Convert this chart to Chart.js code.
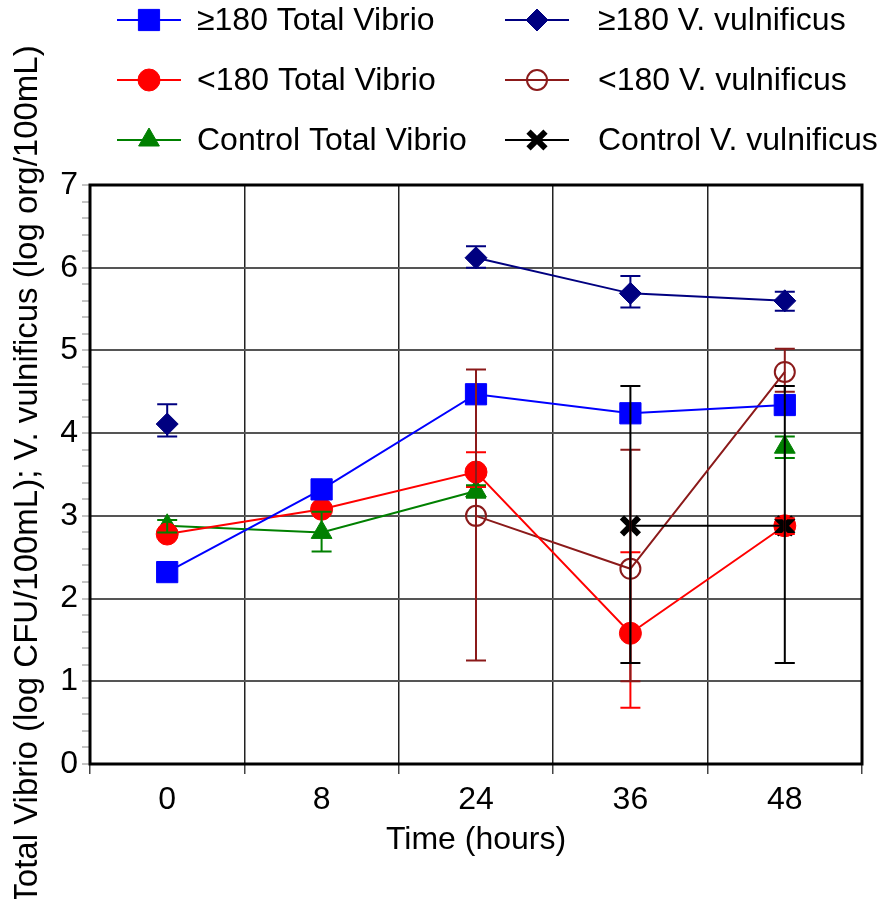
<!DOCTYPE html>
<html>
<head>
<meta charset="utf-8">
<script src="https://cdn.jsdelivr.net/npm/chart.js@4.4.1/dist/chart.umd.min.js"></script>
<style>
html, body { margin: 0; padding: 0; background: #fff; }
</style>
</head>
<body>
<canvas id="grafico" width="882" height="899"></canvas>
<script>
// Datos
const horas = ['0', '8', '24', '36', '48'];

const total180 = [2.32, 3.32, 4.47, 4.24, 4.34];
const vv180 = [4.11, null, 6.12, 5.69, 5.60];
const totalMenos180 = [2.78, 3.08, 3.53, 1.58, 2.88];
const vvMenos180 = [null, null, 3.00, 2.36, 4.74];
const totalControl = [2.88, 2.80, 3.30, null, 3.83];
const vvControl = [null, null, null, 2.88, 2.88];

// Barras de error (limite superior / inferior)
const vv180Sup = [4.35, null, 6.26, 5.90, 5.71];
const vv180Inf = [3.96, null, 6.00, 5.52, 5.48];
const totalMenos180Sup = [null, null, 3.77, 2.56, 2.97];
const totalMenos180Inf = [null, null, 3.35, 0.68, 2.78];
const vvMenos180Sup = [null, null, 4.77, 3.80, 5.02];
const vvMenos180Inf = [null, null, 1.25, 1.00, 4.50];
const totalControlSup = [2.95, 3.05, 3.37, null, 3.96];
const totalControlInf = [2.80, 2.57, 3.22, null, 3.70];
const vvControlSup = [null, null, null, 4.57, 4.57];
const vvControlInf = [null, null, null, 1.22, 1.22];

const fuente = "'Liberation Sans', Arial, Helvetica, sans-serif";

function esEntero(v) {
    return Math.abs(v - Math.round(v)) < 1e-6;
}

// dibuja las barras de error con las escalas del grafico
const barrasError = {
    id: 'barrasError',
    afterDatasetsDraw(chart) {
        const ctx = chart.ctx;
        const xS = chart.scales.x;
        const yS = chart.scales.y;
        chart.data.datasets.forEach((ds) => {
            if (!ds.errSup) return;
            ctx.save();
            ctx.strokeStyle = ds.borderColor;
            ctx.lineWidth = 2;
            for (let j = 0; j < ds.errSup.length; j++) {
                if (ds.errSup[j] == null) continue;
                const x = xS.getPixelForValue(j);
                const y1 = yS.getPixelForValue(ds.errSup[j]);
                const y2 = yS.getPixelForValue(ds.errInf[j]);
                ctx.beginPath();
                ctx.moveTo(x, y1);
                ctx.lineTo(x, y2);
                ctx.moveTo(x - 10, y1);
                ctx.lineTo(x + 10, y1);
                ctx.moveTo(x - 10, y2);
                ctx.lineTo(x + 10, y2);
                ctx.stroke();
            }
            ctx.restore();
        });
    }
};

// marco negro del area del grafico
const marco = {
    id: 'marco',
    beforeDatasetsDraw(chart) {
        const a = chart.chartArea;
        const ctx = chart.ctx;
        ctx.save();
        ctx.strokeStyle = '#000';
        ctx.lineWidth = 3;
        ctx.strokeRect(a.left, a.top, a.right - a.left, a.bottom - a.top);
        ctx.restore();
    }
};

// leyenda en dos columnas
const leyenda = {
    id: 'leyenda',
    afterDraw(chart) {
        const ctx = chart.ctx;
        const colX = [117, 505];
        const textoX = [197, 598];
        const filaY = [20, 80, 140];
        chart.data.datasets.forEach((ds, i) => {
            const x0 = colX[i % 2];
            const y = filaY[Math.floor(i / 2)];
            ctx.save();
            ctx.strokeStyle = ds.borderColor;
            ctx.lineWidth = 2;
            ctx.beginPath();
            ctx.moveTo(x0, y);
            ctx.lineTo(x0 + 64, y);
            ctx.stroke();
            ctx.fillStyle = ds.pointBackgroundColor;
            ctx.strokeStyle = ds.borderColor;
            ctx.lineWidth = ds.pointBorderWidth;
            Chart.helpers.drawPoint(ctx, {
                pointStyle: ds.pointStyle,
                radius: ds.pointRadius,
                borderWidth: ds.pointBorderWidth,
                rotation: 0
            }, x0 + 32, y);
            ctx.fillStyle = '#000';
            ctx.font = '32px ' + fuente;
            ctx.textBaseline = 'middle';
            ctx.fillText(ds.label, textoX[i % 2], y + 1);
            ctx.restore();
        });
    }
};

function serie(label, datos, color, estilo, radio, relleno, anchoBorde, sup, inf, orden) {
    return {
        label: label,
        data: datos,
        order: orden,
        borderColor: color,
        backgroundColor: color,
        borderWidth: 2,
        pointStyle: estilo,
        pointRadius: radio,
        pointHoverRadius: radio,
        pointBackgroundColor: relleno,
        pointBorderColor: color,
        pointBorderWidth: anchoBorde,
        spanGaps: false,
        tension: 0,
        errSup: sup,
        errInf: inf
    };
}

const ctx = document.getElementById('grafico').getContext('2d');
new Chart(ctx, {
    type: 'line',
    data: {
        labels: horas,
        datasets: [
            serie('≥180 Total Vibrio', total180, '#0000ff', 'rect', 15, '#0000ff', 1, null, null, 0),
            serie('≥180 V. vulnificus', vv180, '#000080', 'rectRot', 11, '#000080', 1, vv180Sup, vv180Inf, 0),
            serie('<180 Total Vibrio', totalMenos180, '#ff0000', 'circle', 11, '#ff0000', 1, totalMenos180Sup, totalMenos180Inf, 0),
            serie('<180 V. vulnificus', vvMenos180, '#8b1a1a', 'circle', 10, 'rgba(0,0,0,0)', 2, vvMenos180Sup, vvMenos180Inf, 0),
            serie('Control Total Vibrio', totalControl, '#008000', 'triangle', 12, '#008000', 1, totalControlSup, totalControlInf, 0),
            serie('Control V. vulnificus', vvControl, '#000000', 'crossRot', 12, '#000000', 6, vvControlSup, vvControlInf, -1)
        ]
    },
    options: {
        responsive: false,
        animation: false,
        devicePixelRatio: 1,
        layout: { padding: { top: 185, right: 20, bottom: 0, left: 0 } },
        plugins: {
            legend: { display: false },
            tooltip: { enabled: false }
        },
        font: { family: fuente },
        scales: {
            x: {
                type: 'category',
                offset: true,
                grid: {
                    offset: true,
                    color: '#222',
                    lineWidth: 1.5,
                    tickLength: 10,
                    tickColor: '#444'
                },
                border: { display: false },
                ticks: {
                    color: '#000',
                    padding: 7,
                    font: { family: fuente, size: 32 }
                },
                title: {
                    display: true,
                    text: 'Time (hours)',
                    color: '#000',
                    font: { family: fuente, size: 32 },
                    padding: { top: 0, bottom: 40 }
                },
                afterFit(scale) { scale.height = 135; }
            },
            y: {
                min: 0,
                max: 7,
                grid: {
                    color: (c) => esEntero(c.tick.value) ? '#555' : 'rgba(0,0,0,0)',
                    lineWidth: 2,
                    tickLength: 8,
                    tickColor: '#888',
                    tickWidth: 1
                },
                border: { display: false },
                ticks: {
                    stepSize: 0.2,
                    autoSkip: false,
                    color: '#000',
                    padding: 4,
                    font: { family: fuente, size: 32 },
                    callback: (v) => esEntero(v) ? String(Math.round(v)) : ''
                },
                title: {
                    display: true,
                    text: 'Total Vibrio (log CFU/100mL); V. vulnificus (log org/100mL)',
                    color: '#000',
                    font: { family: fuente, size: 33 },
                    padding: { top: 8, bottom: 0 }
                },
                afterFit(scale) { scale.width = 90; }
            }
        }
    },
    plugins: [marco, barrasError, leyenda]
});
</script>
</body>
</html>
